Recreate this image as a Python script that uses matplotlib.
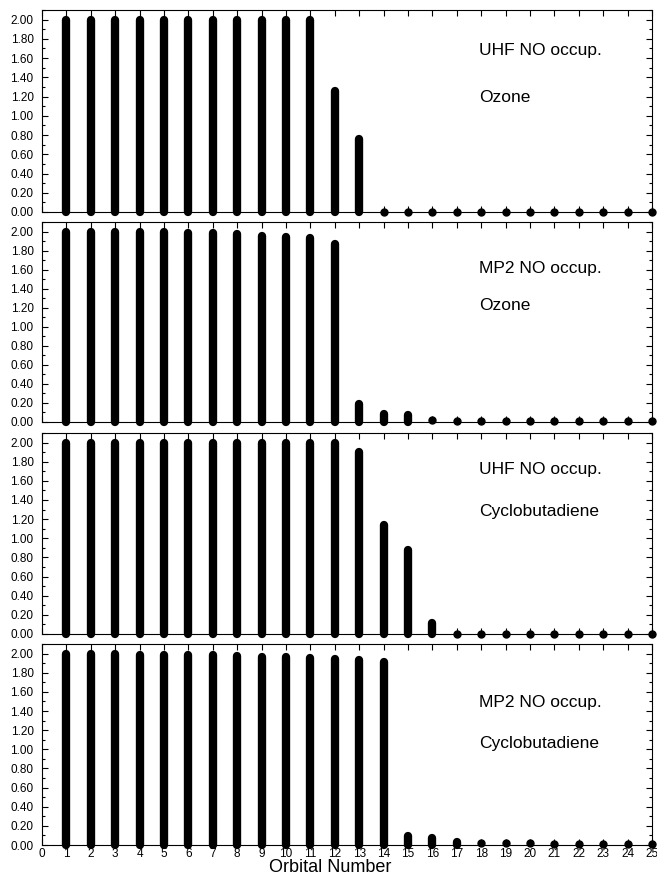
import matplotlib
matplotlib.use("Agg")
import matplotlib.pyplot as plt
import numpy as np
from matplotlib.ticker import MultipleLocator, FormatStrFormatter

plt.rcParams['font.family'] = ['Liberation Sans', 'DejaVu Sans']

orbitals = np.arange(1, 26)

uhf_ozone = [2.00, 2.00, 2.00, 2.00, 2.00, 2.00, 2.00, 2.00, 2.00, 2.00, 2.00,
             1.26, 0.76, 0, 0, 0, 0, 0, 0, 0, 0, 0, 0, 0, 0]
mp2_ozone = [2.00, 2.00, 2.00, 1.99, 1.99, 1.98, 1.98, 1.97, 1.95, 1.94, 1.93,
             1.87, 0.19, 0.08, 0.07, 0.02, 0.01, 0.01, 0.01, 0.01, 0.01, 0.01,
             0.01, 0.01, 0.01]
uhf_cbd = [2.00, 2.00, 2.00, 2.00, 2.00, 2.00, 2.00, 2.00, 2.00, 2.00, 2.00,
           2.00, 1.90, 1.14, 0.88, 0.12, 0, 0, 0, 0, 0, 0, 0, 0, 0]
mp2_cbd = [2.00, 2.00, 2.00, 1.99, 1.99, 1.98, 1.98, 1.97, 1.96, 1.96, 1.95,
           1.94, 1.93, 1.91, 0.09, 0.07, 0.03, 0.02, 0.02, 0.02, 0.01, 0.01,
           0.01, 0.01, 0.01]

series = [uhf_ozone, mp2_ozone, uhf_cbd, mp2_cbd]
labels = [("UHF NO occup.", "Ozone"), ("MP2 NO occup.", "Ozone"),
          ("UHF NO occup.", "Cyclobutadiene"), ("MP2 NO occup.", "Cyclobutadiene")]
# (top px, bottom px, label line1 frac, label line2 frac)
panels = [(10, 212, 0.80, 0.565), (222, 422, 0.77, 0.58),
          (433, 634, 0.816, 0.607), (644, 845, 0.711, 0.507)]

W, H = 657, 876
fig = plt.figure(figsize=(W / 100, H / 100), dpi=100)
left, right = 42, 652

for i, (vals, lab, (top, bot, f1, f2)) in enumerate(zip(series, labels, panels)):
    ax = fig.add_axes([left / W, 1 - bot / H, (right - left) / W, (bot - top) / H])
    vals = np.array(vals)
    big = vals > 0.02
    lc = ax.vlines(orbitals[big], 0, vals[big], color='k', lw=6, zorder=3,
                   clip_on=False)
    lc.set_capstyle('round')
    ax.plot(orbitals[~big], vals[~big], 'o', color='k', ms=5, zorder=3,
            clip_on=False)
    ax.set_xlim(0, 25)
    ax.set_ylim(0, 2.1)
    ax.xaxis.set_major_locator(MultipleLocator(1))
    ax.yaxis.set_major_locator(MultipleLocator(0.2))
    ax.yaxis.set_minor_locator(MultipleLocator(0.1))
    ax.yaxis.set_major_formatter(FormatStrFormatter('%.2f'))
    ax.tick_params(which='both', direction='in', top=True, right=True,
                   labelsize=8.5, width=0.8)
    ax.tick_params(which='major', length=4.5)
    ax.tick_params(which='minor', length=2.5)
    ax.tick_params(axis='y', pad=6)
    ax.tick_params(axis='x', pad=2)
    for s in ax.spines.values():
        s.set_linewidth(0.8)
    if i < 3:
        ax.tick_params(labelbottom=False)
    ax.text(0.717, f1, lab[0], transform=ax.transAxes, fontsize=12.5, va='center')
    ax.text(0.717, f2, lab[1], transform=ax.transAxes, fontsize=12.5, va='center')

fig.text(330 / W, 1 - 868 / H, "Orbital Number", ha='center', va='center',
         fontsize=13, family=['Liberation Sans Narrow', 'Liberation Sans'])

fig.savefig("out.png", dpi=100)
